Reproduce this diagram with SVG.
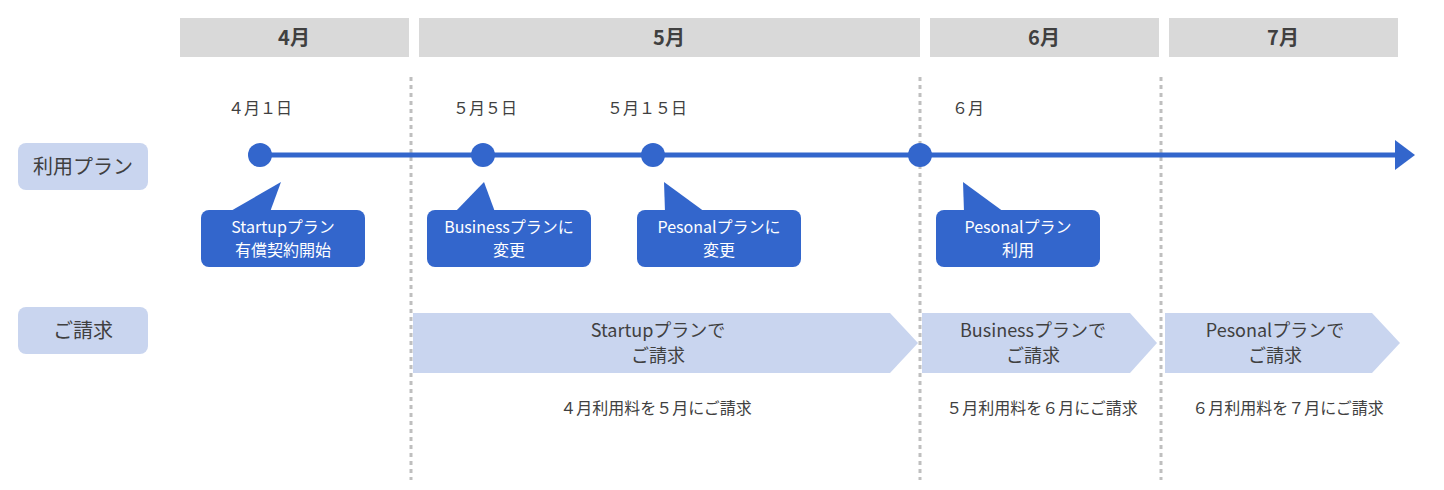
<svg xmlns="http://www.w3.org/2000/svg" width="1444" height="490" viewBox="0 0 1444 490">
<style>
text{font-family:"Noto Sans CJK JP","Noto Sans",sans-serif;fill:#404040;text-anchor:middle}
.hd{fill:#d9d9d9}.hdt{font-size:20px;font-weight:bold}
.lb{fill:#c9d5ef}.lbt{font-size:20px}
.dt{font-size:16px;text-anchor:start}
.co{fill:#3366cc}.cot{fill:#fff;font-size:16px}
.bt{font-size:18px}.nt{font-size:16px}
.dot{stroke:#bfbfbf;stroke-width:3;stroke-dasharray:4 4}
</style>
<defs><marker id="ah" markerWidth="6" markerHeight="6" refX="1" refY="3" orient="auto" markerUnits="strokeWidth"><path d="M0,0L4,3L0,6z" fill="#3366cc"/></marker></defs>
<g id="headers">
<rect class="hd" x="180" y="18" width="229" height="39"/><text class="hdt" x="294" y="45">4月</text>
<rect class="hd" x="419" y="18" width="501" height="39"/><text class="hdt" x="669" y="45">5月</text>
<rect class="hd" x="930" y="18" width="229" height="39"/><text class="hdt" x="1044" y="45">6月</text>
<rect class="hd" x="1169" y="18" width="229" height="39"/><text class="hdt" x="1283" y="45">7月</text>
</g>
<g id="dividers">
<line class="dot" x1="411" y1="77" x2="411" y2="480"/>
<line class="dot" x1="920" y1="77" x2="920" y2="480"/>
<line class="dot" x1="1161" y1="77" x2="1161" y2="480"/>
</g>
<g id="row-labels">
<g id="lbl-plan"><rect class="lb" x="18" y="143" width="130" height="47" rx="8"/><text class="lbt" x="83" y="174">利用プラン</text></g>
<g id="lbl-bill"><rect class="lb" x="18" y="307" width="130" height="47" rx="8"/><text class="lbt" x="83" y="338">ご請求</text></g>
</g>
<g id="connectors">
<line x1="260" y1="155" x2="1400" y2="155" stroke="#3366cc" stroke-width="5" marker-end="url(#ah)"/>
</g>
<g id="points">
<circle class="co" cx="260" cy="155" r="12"/><circle class="co" cx="483" cy="155" r="12"/>
<circle class="co" cx="653" cy="155" r="12"/><circle class="co" cx="920" cy="155" r="12"/>
<text class="dt" x="228" y="114">４月１日</text><text class="dt" x="453" y="114">５月５日</text>
<text class="dt" x="607" y="114">５月１５日</text><text class="dt" x="952" y="114">６月</text>
</g>
<g id="c1"><path class="co" d="M229,212L281,182L270,212z"/><rect class="co" x="201" y="210" width="164" height="57" rx="8"/><text class="cot" x="283" y="233">Startupプラン</text><text class="cot" x="283" y="256">有償契約開始</text></g>
<g id="c2"><path class="co" d="M455,212L484,182L495,212z"/><rect class="co" x="427" y="210" width="164" height="57" rx="8"/><text class="cot" x="509" y="233">Businessプランに</text><text class="cot" x="509" y="256">変更</text></g>
<g id="c3"><path class="co" d="M665,212L664,182L705,212z"/><rect class="co" x="637" y="210" width="164" height="57" rx="8"/><text class="cot" x="719" y="233">Pesonalプランに</text><text class="cot" x="719" y="256">変更</text></g>
<g id="c4"><path class="co" d="M964,212L963,182L1004,212z"/><rect class="co" x="936" y="210" width="164" height="57" rx="8"/><text class="cot" x="1018" y="233">Pesonalプラン</text><text class="cot" x="1018" y="256">利用</text></g>
<g id="b1"><path class="lb" d="M413,313H890L918,343L890,373H413z"/><text class="bt" x="658" y="337">Startupプランで</text><text class="bt" x="658" y="362">ご請求</text><text class="nt" x="656" y="414">４月利用料を５月にご請求</text></g>
<g id="b2"><path class="lb" d="M922,313H1130L1157,343L1130,373H922z"/><text class="bt" x="1033" y="337">Businessプランで</text><text class="bt" x="1033" y="362">ご請求</text><text class="nt" x="1042" y="414">５月利用料を６月にご請求</text></g>
<g id="b3"><path class="lb" d="M1165,313H1372L1400,343L1372,373H1165z"/><text class="bt" x="1275" y="337">Pesonalプランで</text><text class="bt" x="1275" y="362">ご請求</text><text class="nt" x="1288" y="414">６月利用料を７月にご請求</text></g>
</svg>
